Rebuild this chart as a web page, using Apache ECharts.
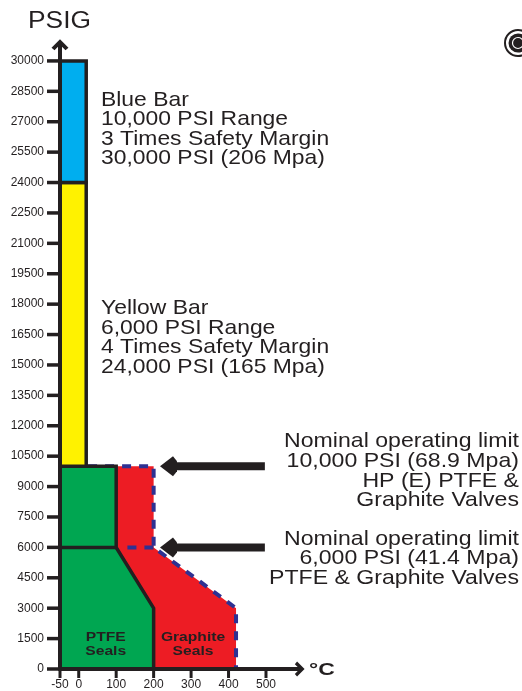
<!DOCTYPE html>
<html><head><meta charset="utf-8">
<script src="https://cdn.jsdelivr.net/npm/echarts@6/dist/echarts.min.js"></script>
<style>html,body{margin:0;padding:0;background:#fff}#c{width:522px;height:691px}</style>
</head><body><div id="c"></div>
<script>
// ---- data ----
const yTickValues = [0,1500,3000,4500,6000,7500,9000,10500,12000,13500,15000,16500,18000,19500,21000,22500,24000,25500,27000,28500,30000];
const xTickValues = [-50,0,100,200,300,400,500];
const barTempRange = [-50, 20];
const yellowBand = [10000, 24000];
const blueBand = [24000, 30000];
const ptfeRegion = [[-50,0],[200,0],[200,3000],[100,6000],[100,10000],[-50,10000]];
const ptfeDivider = [[-50,6000],[100,6000]];
const graphiteRegion = [[100,10000],[200,10000],[200,6000],[420,3000],[420,0],[200,0],[200,3000],[100,6000]];
const graphiteLimit = [[25,10000],[200,10000],[200,6000],[420,3000],[420,0]];
const graphiteLimitStub = [[130,6000],[200,6000]];
const limitLevels = [10000, 6000];
const arrowTipTemp = 217;
const arrowTailTemp = 497;
const blueBarText = ['Blue Bar','10,000 PSI Range','3 Times Safety Margin','30,000 PSI (206 Mpa)'];
const yellowBarText = ['Yellow Bar','6,000 PSI Range','4 Times Safety Margin','24,000 PSI (165 Mpa)'];
const limit10kText = ['Nominal operating limit','10,000 PSI (68.9 Mpa)','HP (E) PTFE &','Graphite Valves'];
const limit6kText = ['Nominal operating limit','6,000 PSI (41.4 Mpa)','PTFE & Graphite Valves'];
const ptfeLabel = ['PTFE','Seals'];
const graphiteLabel = ['Graphite','Seals'];
const yAxisTitle = 'PSIG';
const xAxisTitle = '°C';

// ---- styles ----
const INK = '#231f20';
const FONT = '"Liberation Sans", Arial, Helvetica, sans-serif';
const chevron = 'path://M0,10 L10,0 L20,10 L16.5,13 L10,6.5 L3.5,13 Z';

function polySeries(points, style, z, closed) {
  return {
    type: 'custom', coordinateSystem: 'cartesian2d', z: z, silent: true, clip: false,
    data: points,
    renderItem: function (params, api) {
      if (params.dataIndex !== 0) return null;
      const pts = points.map(p => api.coord(p));
      return closed === false
        ? { type: 'polyline', shape: { points: pts }, style: Object.assign({ fill: null }, style) }
        : { type: 'polygon', shape: { points: pts }, style: style };
    }
  };
}
function bandPoints(band) {
  return [[barTempRange[0], band[0]], [barTempRange[1], band[0]], [barTempRange[1], band[1]], [barTempRange[0], band[1]]];
}
function label(x, y, lines, font, align, lineHeight, scaleX) {
  return { type: 'text', x: x, y: y, scaleX: scaleX, z: 20,
    style: { text: lines.join('\n'), font: font, fill: INK, lineHeight: lineHeight, align: align, verticalAlign: 'top' } };
}

const chart = echarts.init(document.getElementById('c'), null, { renderer: 'canvas' });
const staticGraphic = [
  label(59.5, 8.5, [yAxisTitle], '23.5px ' + FONT, 'center', 26, 1.12),
  label(309, 660, [xAxisTitle], 'bold 17px ' + FONT, 'left', 20, 1.35),
  label(101, 90.5, blueBarText, '21px ' + FONT, 'left', 19.4, 1.09),
  label(101, 299, yellowBarText, '21px ' + FONT, 'left', 19.4, 1.09),
  label(519, 431.5, limit10kText, '21px ' + FONT, 'right', 19.7, 1.1),
  label(519, 529, limit6kText, '21px ' + FONT, 'right', 19.7, 1.1),
  label(105.7, 630.7, ptfeLabel, 'bold 12.5px ' + FONT, 'center', 14, 1.25),
  label(193, 630.7, graphiteLabel, 'bold 12.5px ' + FONT, 'center', 14, 1.25),
  { type: 'circle', shape: { cx: 518, cy: 43, r: 13 }, style: { fill: '#fff', stroke: INK, lineWidth: 2 } },
  { type: 'circle', shape: { cx: 518, cy: 43, r: 9.5 }, style: { fill: INK } },
  { type: 'circle', shape: { cx: 518, cy: 43, r: 5.5 }, style: { fill: null, stroke: '#fff', lineWidth: 1.2 } }
];
const option = {
  animation: false,
  grid: { left: 60, right: 222.3, top: 44.7, bottom: 19, containLabel: false },
  xAxis: {
    type: 'value', min: -50, max: 590, interval: 50, zlevel: 1,
    axisLine: { show: true, onZero: false, lineStyle: { color: INK, width: 4 }, symbol: ['none', chevron], symbolSize: [15, 12] },
    axisTick: { show: false },
    axisLabel: { show: true, fontFamily: FONT, fontSize: 12, color: INK, margin: 10, customValues: xTickValues, formatter: v => String(v) },
    splitLine: { show: false }
  },
  yAxis: {
    type: 'value', min: 0, max: 30800, interval: 1500, zlevel: 1,
    axisLine: { show: true, onZero: false, lineStyle: { color: INK, width: 4 }, symbol: ['none', chevron], symbolSize: [18, 11] },
    axisTick: { show: false },
    axisLabel: { show: true, fontFamily: FONT, fontSize: 12, color: INK, margin: 16, customValues: yTickValues, formatter: v => String(v) },
    splitLine: { show: false }
  },
  series: [
    polySeries(graphiteRegion, { fill: '#ed1c24' }, 2),
    polySeries(graphiteLimit, { stroke: '#2e3192', lineWidth: 4, lineDash: [9, 8] }, 3, false),
    polySeries(graphiteLimitStub, { stroke: '#2e3192', lineWidth: 4, lineDash: [9, 8] }, 3, false),
    polySeries(ptfeRegion, { fill: '#00a651', stroke: INK, lineWidth: 3.5, lineJoin: 'miter' }, 4),
    polySeries(ptfeDivider, { stroke: INK, lineWidth: 3.5 }, 5, false),
    polySeries(bandPoints(yellowBand), { fill: '#fff200', stroke: INK, lineWidth: 3.5 }, 4),
    polySeries(bandPoints(blueBand), { fill: '#00aeef', stroke: INK, lineWidth: 3.5 }, 4),
    {
      type: 'custom', coordinateSystem: 'cartesian2d', z: 6, silent: true, clip: false,
      data: limitLevels.map(l => [arrowTipTemp, l, arrowTailTemp]),
      renderItem: function (params, api) {
        const tip = api.coord([api.value(0), api.value(1)]);
        const tail = api.coord([api.value(2), api.value(1)]);
        return {
          type: 'group',
          children: [
            { type: 'rect', shape: { x: tip[0] + 15, y: tip[1] - 4, width: tail[0] - tip[0] - 15, height: 8 }, style: { fill: INK } },
            { type: 'polygon', shape: { points: [[tip[0], tip[1]], [tip[0] + 13, tip[1] - 10], [tip[0] + 17, tip[1] - 5], [tip[0] + 17, tip[1] + 5], [tip[0] + 13, tip[1] + 10]] }, style: { fill: INK } }
          ]
        };
      }
    }
  ],
  graphic: staticGraphic
};
chart.setOption(option);

// tick marks, positioned through the chart's own axis scales
const tickMarks = [];
try {
  yTickValues.forEach(v => {
    const p = chart.convertToPixel({ gridIndex: 0 }, [xTickValues[0], v]);
    tickMarks.push({ type: 'rect', zlevel: 2, z: 50, shape: { x: p[0] - 13, y: p[1] - 1.75, width: 13, height: 3.5 }, style: { fill: INK } });
  });
  xTickValues.forEach(v => {
    const p = chart.convertToPixel({ gridIndex: 0 }, [v, yTickValues[0]]);
    tickMarks.push({ type: 'rect', zlevel: 2, z: 50, shape: { x: p[0] - 1.5, y: p[1], width: 3, height: 9 }, style: { fill: INK } });
  });
} catch (e) { /* keep chart without tick marks */ }
chart.setOption({ graphic: staticGraphic.concat(tickMarks) });
</script>
</body></html>
